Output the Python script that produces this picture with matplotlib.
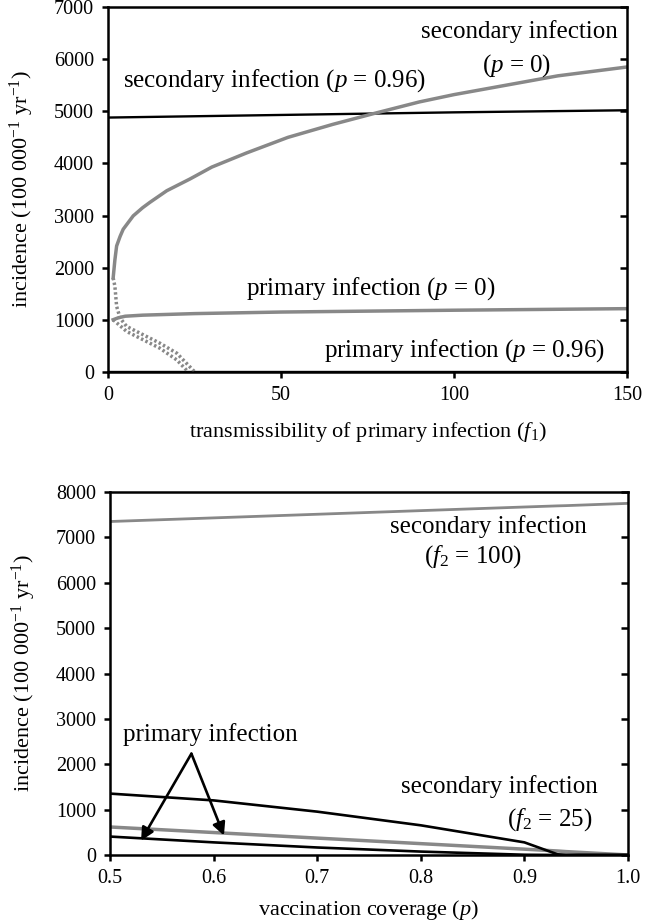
import matplotlib
matplotlib.use("Agg")
import matplotlib.pyplot as plt

plt.rcParams['font.family'] = ['Liberation Serif', 'DejaVu Serif']
plt.rcParams['mathtext.fontset'] = 'custom'
plt.rcParams['mathtext.rm'] = 'Liberation Serif'
plt.rcParams['mathtext.it'] = 'Liberation Serif:italic'
plt.rcParams['font.size'] = 14.5

GRAY = '#888888'
ANN = 18   # in-plot annotation size
LAB = 16   # axis label size

# --- top panel: incidence vs transmissibility of primary infection (f1) ---
sec_p0_f1 = [1.5, 2, 2.5, 3.5, 4.4, 6, 7.3, 10, 12.1, 17, 23.7, 30, 40, 52, 65, 77, 90, 100, 115, 130, 150]
sec_p0_inc = [1806, 2150, 2417, 2600, 2738, 2880, 2995, 3150, 3253, 3477, 3702, 3930, 4200, 4500, 4750,
              4960, 5180, 5320, 5500, 5680, 5850]
sec_p0_unst_f1 = [1.5, 2.0, 2.5, 3.5, 5.4, 10.2, 15, 19.9, 25.1]
sec_p0_unst_inc = [1806, 1645, 1260, 1035, 874, 713, 553, 360, 0]
prim_p0_f1 = [1.5, 3, 5, 10, 25, 50, 100, 150]
prim_p0_inc = [1003, 1040, 1070, 1090, 1120, 1150, 1185, 1215]
prim_p0_unst_f1 = [1.5, 5.4, 10.2, 15, 19.9, 23.2]
prim_p0_unst_inc = [1003, 777, 617, 456, 231, 0]
sec_p96_f1 = [0, 50, 100, 150]
sec_p96_inc = [4880, 4930, 4980, 5020]
prim_p96_f1 = [0, 150]
prim_p96_inc = [0, 0]

# --- bottom panel: incidence vs vaccination coverage (p) ---
cov = [0.5, 0.6, 0.7, 0.8, 0.9, 0.932, 0.94, 1.0]
sec_f100 = [7350, 7430, 7510, 7590, 7670, 7695, 7700, 7750]
sec_f25 = [1353, 1203, 955, 654, 278, 15, 0, 0]
prim_f100 = [617, 495, 372, 250, 128, 88, 75, 0]
prim_f25 = [406, 278, 165, 75, 5, 0, 0, 0]

fig = plt.figure(figsize=(6.45, 9.24), dpi=100)
ax1 = fig.add_axes([0.1674, 0.5974, 0.8047, 0.395])
ax2 = fig.add_axes([0.1705, 0.0747, 0.8031, 0.3928])

# top
ax1.plot(sec_p96_f1, sec_p96_inc, color='black', lw=1.7)
ax1.plot(prim_p96_f1, prim_p96_inc, color='black', lw=1.7)
ax1.plot(sec_p0_f1, sec_p0_inc, color=GRAY, lw=2.5)
ax1.plot(prim_p0_f1, prim_p0_inc, color=GRAY, lw=2.5)
ax1.plot(sec_p0_unst_f1, sec_p0_unst_inc, color=GRAY, lw=2.5, ls=(0, (0.7, 0.7)))
ax1.plot(prim_p0_unst_f1, prim_p0_unst_inc, color=GRAY, lw=2.5, ls=(0, (0.7, 0.7)))

ax1.text(119, 6530, 'secondary infection', ha='center', va='center', fontsize=ANN)
ax1.text(118, 5880, '($p$ = 0)', ha='center', va='center', fontsize=ANN)
ax1.text(48, 5580, 'secondary infection ($p$ = 0.96)', ha='center', va='center', fontsize=ANN)
ax1.text(76, 1600, 'primary infection ($p$ = 0)', ha='center', va='center', fontsize=ANN)
ax1.text(103, 420, 'primary infection ($p$ = 0.96)', ha='center', va='center', fontsize=ANN)

ax1.set_xlim(0, 150)
ax1.set_ylim(0, 7000)
ax1.set_xticks([0, 50, 100, 150])
ax1.set_yticks(range(0, 7001, 1000))
ax1.set_xlabel('transmissibility of primary infection ($f_1$)', labelpad=11, fontsize=LAB)
ax1.set_ylabel('incidence (100 000$^{-1}$ yr$^{-1}$)', labelpad=13, fontsize=LAB)

# bottom
ax2.plot(cov, sec_f100, color=GRAY, lw=2.0)
ax2.plot(cov, prim_f100, color=GRAY, lw=2.5)
ax2.plot(cov, sec_f25, color='black', lw=1.9)
ax2.plot(cov, prim_f25, color='black', lw=1.9)

apex = (0.5786, 2233)
ax2.annotate('', xy=(0.530, 316), xytext=apex,
             arrowprops=dict(arrowstyle='-|>', color='black', lw=1.9, mutation_scale=19, shrinkA=0, shrinkB=0))
ax2.annotate('', xy=(0.610, 429), xytext=apex,
             arrowprops=dict(arrowstyle='-|>', color='black', lw=1.9, mutation_scale=19, shrinkA=0, shrinkB=0))
ax2.text(0.597, 2650, 'primary infection', ha='center', va='center', fontsize=ANN)
ax2.text(0.865, 7250, 'secondary infection', ha='center', va='center', fontsize=ANN)
ax2.text(0.85, 6570, '($f_2$ = 100)', ha='center', va='center', fontsize=ANN)
ax2.text(0.876, 1500, 'secondary infection', ha='center', va='center', fontsize=ANN)
ax2.text(0.924, 790, '($f_2$ = 25)', ha='center', va='center', fontsize=ANN)

ax2.set_xlim(0.5, 1.0)
ax2.set_ylim(0, 8000)
ax2.set_xticks([0.5, 0.6, 0.7, 0.8, 0.9, 1.0])
ax2.set_xticklabels(['0.5', '0.6', '0.7', '0.8', '0.9', '1.0'])
ax2.set_yticks(range(0, 8001, 1000))
ax2.set_xlabel('vaccination coverage ($p$)', labelpad=7, fontsize=LAB)
ax2.set_ylabel('incidence (100 000$^{-1}$ yr$^{-1}$)', labelpad=13, fontsize=LAB)

for ax in (ax1, ax2):
    for s in ax.spines.values():
        s.set_linewidth(1.8)
    ax.tick_params(axis='both', which='major', direction='out', length=4, width=1.8, pad=6,
                   left=True, bottom=True, right=False, top=False)
    ax.tick_params(axis='y', which='major', right=True, labelright=False)
    # right-hand ticks point into the axes
    for t in ax.yaxis.get_major_ticks():
        t.tick2line.set_marker(matplotlib.lines.TICKLEFT)
        t.tick2line.set_markersize(5)

fig.savefig('out.png', dpi=100)
